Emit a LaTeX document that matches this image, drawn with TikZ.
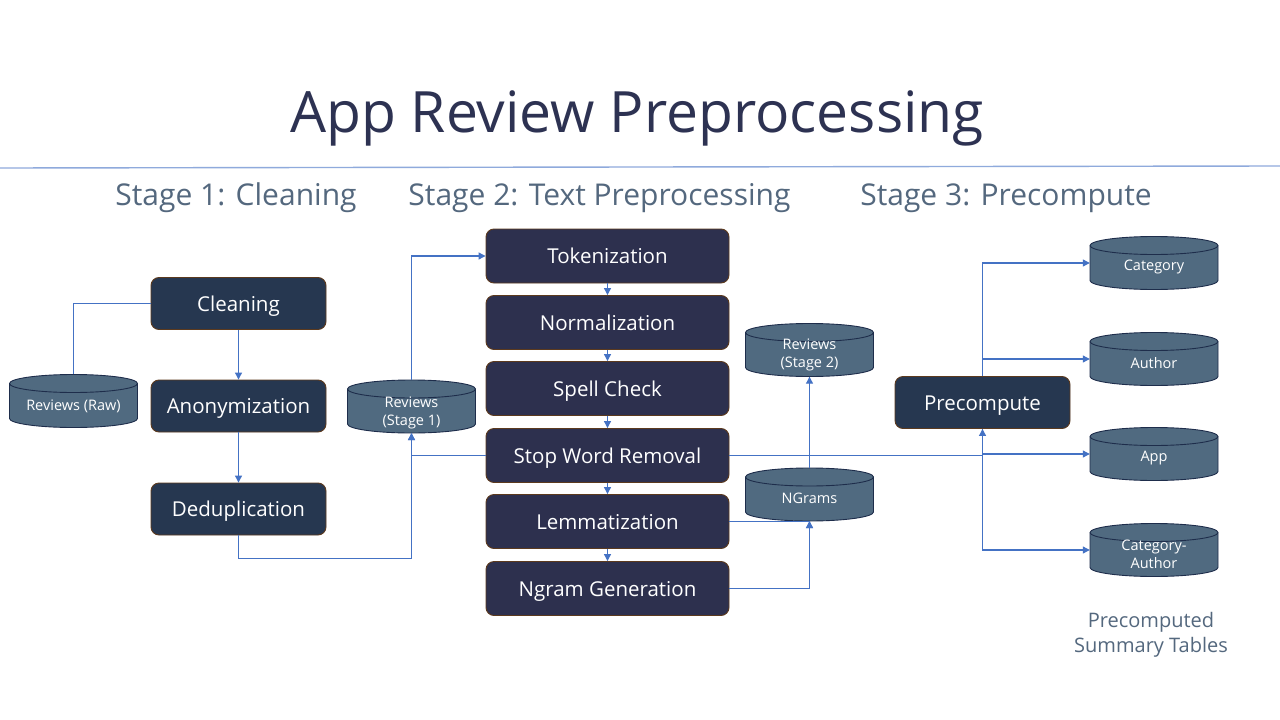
\documentclass[tikz,border=0pt]{standalone}
\usepackage{fontspec}
\setmainfont{Open Sans}
\usetikzlibrary{arrows.meta}

\definecolor{inkA}{HTML}{263750}
\definecolor{inkB}{HTML}{2D304E}
\definecolor{rim}{HTML}{5C3A1E}
\definecolor{drumfill}{HTML}{506A80}
\definecolor{drumrim}{HTML}{1E2D4B}
\definecolor{titleink}{HTML}{2D3252}
\definecolor{slate}{HTML}{54687E}
\definecolor{linkblue}{HTML}{4472C4}
\definecolor{rulecol}{HTML}{8FAADC}

% database drum: name, centre x, centre y, label shift, label
\newcommand{\drum}[5]{%
  \begin{scope}[shift={(#2,#3)}]
    \path[drumbody] (-64,-17.5) -- (-64,17.5)
      arc[start angle=180,end angle=0,x radius=64,y radius=9]
      -- (64,-17.5)
      arc[start angle=0,end angle=-180,x radius=64,y radius=9] -- cycle;
    \draw[drumedge] (-64,-17.5) arc[start angle=180,end angle=0,x radius=64,y radius=9];
  \end{scope}
  \node[drumbox] (#1) at (#2,#3) {};
  \node[drumtext] (#1-t) at (#2,#3+#4) {#5};
}

\begin{document}
\begin{tikzpicture}[x=1pt,y=-1pt,
  boxbase/.style={rectangle, rounded corners=8pt, draw=rim, line width=0.9pt,
    text=white, inner sep=0pt, text height=18pt, text depth=3pt,
    font=\fontsize{20.5}{24}\selectfont},
  stageone/.style={boxbase, fill=inkA, minimum width=175pt, minimum height=52pt},
  stagetwo/.style={boxbase, fill=inkB, minimum width=243pt, minimum height=54pt},
  drumbody/.style={fill=drumfill, draw=drumrim, line width=0.9pt},
  drumedge/.style={draw=drumrim, line width=0.9pt},
  drumbox/.style={rectangle, draw=none, minimum width=128pt, minimum height=53pt, inner sep=0pt},
  drumtext/.style={text=white, align=center, inner sep=0pt,
    font=\fontsize{14.5}{18}\selectfont},
  heading/.style={text=slate, anchor=base, inner sep=0pt, font=\fontsize{30}{36}\selectfont},
  link/.style={draw=linkblue, line width=1.1pt},
  flow/.style={link, -{Triangle[length=7pt,width=7pt]}}
]
\fill[white] (0,0) rectangle (1280,720);
\useasboundingbox (0,0) rectangle (1280,720);

% title and rule
\node[text=titleink, anchor=base, inner sep=0pt, font=\fontsize{57}{66}\selectfont]
  (title) at (637,132) {App Review Preprocessing};
\draw[rulecol, line width=1.4pt] (0,168) -- (1280,166);

% stage headings
\node[heading] (h1) at (236,205) {Stage 1: Cleaning};
\node[heading] (h2) at (599.5,205) {Stage 2: Text Preprocessing};
\node[heading] (h3) at (1006,205) {Stage 3: Precompute};

% stage 1
\node[stageone] (clean) at (238.5,303.5) {Cleaning};
\node[stageone] (anon) at (238.5,406) {Anonymization};
\node[stageone] (dedup) at (238.5,509) {Deduplication};

% stage 2
\node[stagetwo] (tok) at (607.5,256) {Tokenization};
\node[stagetwo] (norm) at (607.5,322.5) {Normalization};
\node[stagetwo] (spell) at (607.5,388.5) {Spell Check};
\node[stagetwo] (sw) at (607.5,455.5) {Stop Word Removal};
\node[stagetwo] (lem) at (607.5,521.5) {Lemmatization};
\node[stagetwo] (ngg) at (607.5,588.5) {Ngram Generation};

% stage 3
\node[stageone] (pre) at (982.5,402.5) {Precompute};

% data stores
\drum{raw}{73.5}{401}{5}{Reviews (Raw)}
\drum{rs1}{411.5}{406.5}{6}{Reviews\\(Stage 1)}
\drum{rs2}{809.5}{350}{5}{Reviews\\(Stage 2)}
\drum{ng}{809.5}{494.5}{4}{NGrams}
\drum{cat}{1154}{263}{4}{Category}
\drum{auth}{1154}{359}{4}{Author}
\drum{appt}{1154}{454}{4}{App}
\drum{catauth}{1154}{550}{4}{Category-\\Author}

\node[text=slate, align=center, inner sep=0pt, font=\fontsize{20}{25}\selectfont]
  (sumnote) at (1151,635) {Precomputed\\Summary Tables};

% connectors
\draw[link] (raw.north) |- (clean.west);
\draw[flow] (clean.south) -- (anon.north);
\draw[flow] (anon.south) -- (dedup.north);
\draw[flow] (dedup.south) -- ++(0,23) -| (rs1.south);
\draw[flow] (sw.west) -| (rs1.south);
\draw[flow] (rs1.north) |- (tok.west);

\draw[flow] (tok.south) -- (norm.north);
\draw[flow] (norm.south) -- (spell.north);
\draw[flow] (spell.south) -- (sw.north);
\draw[flow] (sw.south) -- (lem.north);
\draw[flow] (lem.south) -- (ngg.north);

\draw[flow] (lem.east) -| (ng.south);
\draw[flow] (ngg.east) -| (ng.south);
\draw[flow] (ng.north) -- (rs2.south);

\draw[flow] (sw.east) -| (pre.south);
\draw[flow] (pre.south) |- (appt.west);
\draw[flow] (pre.south) |- (catauth.west);
\draw[flow] (pre.north) |- (cat.west);
\draw[flow] (pre.north) |- (auth.west);
\end{tikzpicture}
\end{document}
